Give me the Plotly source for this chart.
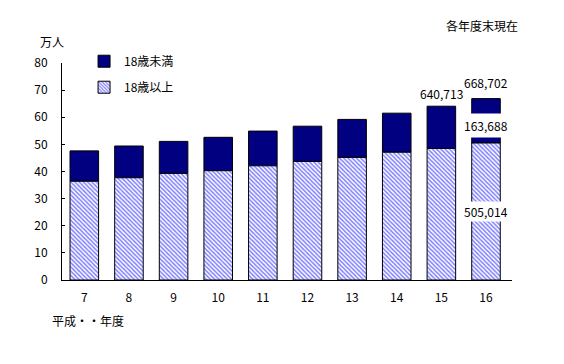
import plotly.graph_objects as go

years = ["7", "8", "9", "10", "11", "12", "13", "14", "15", "16"]
adults = [36.4, 37.7, 39.3, 40.3, 42.1, 43.7, 45.2, 47.1, 48.5, 50.5014]
minors = [11.2, 11.7, 11.8, 12.3, 12.8, 13.0, 14.0, 14.4, 15.5713, 16.3688]
y_ticks = [0, 10, 20, 30, 40, 50, 60, 70, 80]
total_labels = {"15": "640,713", "16": "668,702"}
minor_label = ("16", "163,688")
adult_label = ("16", "505,014")

FONT = "Noto Sans CJK JP, Liberation Sans, sans-serif"

fig = go.Figure()
fig.add_trace(go.Bar(
    x=years, y=minors, name="18歳未満", legendgroup="a", legendrank=1,
    marker=dict(color="#000080", line=dict(color="black", width=1)),
    base=adults,
))
fig.add_trace(go.Bar(
    x=years, y=adults, name="18歳以上", legendgroup="b", legendrank=2,
    marker=dict(color="white", line=dict(color="black", width=1),
                pattern=dict(shape="\\", fgcolor="#0000ff", bgcolor="white",
                             size=3, solidity=0.5)),
))

annotations = []
shifts = {"15": 2, "16": 6}
for i, yr in enumerate(years):
    if yr in total_labels:
        annotations.append(dict(x=i, y=adults[i] + minors[i], text=total_labels[yr],
                                showarrow=False, yanchor="bottom", yshift=shifts[yr],
                                font=dict(size=12, color="black")))
i16 = years.index(minor_label[0])
annotations.append(dict(x=i16, y=adults[i16] + minors[i16] * 0.4,
                        text=minor_label[1], showarrow=False, bgcolor="white",
                        borderpad=3, font=dict(size=12, color="black")))
annotations.append(dict(x=i16, y=adults[i16] * 0.5,
                        text=adult_label[1], showarrow=False, bgcolor="white",
                        borderpad=1, font=dict(size=12, color="black")))
annotations += [
    dict(xref="paper", yref="paper", x=1.018, y=1.175, xanchor="right", yanchor="middle",
         text="各年度末現在", showarrow=False, font=dict(size=12, color="black")),
    dict(xref="paper", yref="paper", x=-0.053, y=1.10, xanchor="left", yanchor="middle",
         text="万人", showarrow=False, font=dict(size=12, color="black")),
    dict(xref="paper", yref="paper", x=-0.027, y=-0.187, xanchor="left", yanchor="middle",
         text="平成・・年度", showarrow=False, font=dict(size=12, color="black")),
]

fig.update_layout(
    width=556, height=356,
    margin=dict(l=54, r=52, t=55, b=84),
    paper_bgcolor="white", plot_bgcolor="white",
    barmode="overlay", bargap=0.36,
    font=dict(family=FONT, size=12, color="black"),
    annotations=annotations,
    legend=dict(x=0.049, y=1.075, xanchor="left", yanchor="top",
                traceorder="grouped", tracegroupgap=7,
                bgcolor="rgba(0,0,0,0)", font=dict(size=12),
                itemwidth=30),
    xaxis=dict(type="category", showline=True, linecolor="black", linewidth=1, ticks="",
               showgrid=False, ticklabelstandoff=7, tickfont=dict(size=12)),
    yaxis=dict(range=[0, 80], tickvals=y_ticks, showline=True, linecolor="black",
               linewidth=1, ticks="inside", ticklen=3, tickcolor="black",
               showgrid=False, zeroline=False, ticklabelstandoff=11,
               tickfont=dict(size=12)),
)

fig.write_html("out.html")
